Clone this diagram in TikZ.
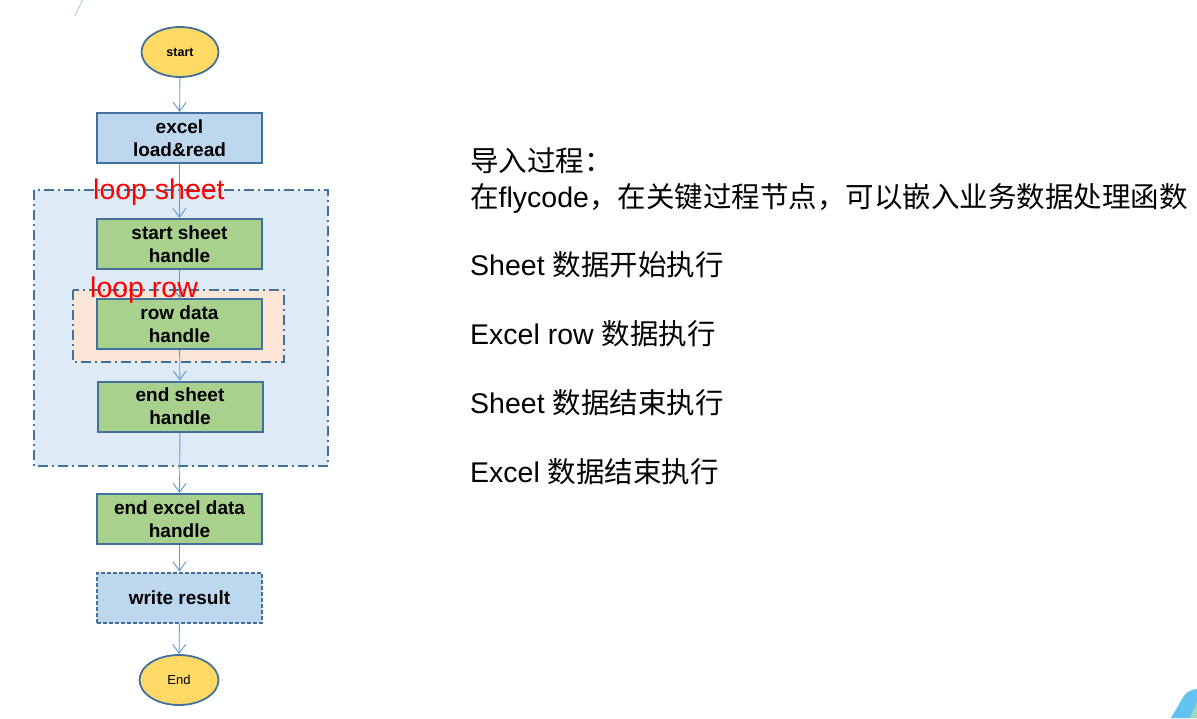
\documentclass[tikz,border=0pt]{standalone}
\usepackage{fontspec}
\setmainfont{Liberation Sans}
\newfontfamily\cjk{Noto Sans CJK SC}
\usetikzlibrary{shapes.geometric,arrows.meta}

\definecolor{edgeblue}{HTML}{41719C}
\definecolor{arrowblue}{HTML}{5B9BD5}
\definecolor{boxblue}{HTML}{BDD7EE}
\definecolor{boxgreen}{HTML}{A9D18E}
\definecolor{termyellow}{HTML}{FFD966}
\definecolor{sheetbg}{HTML}{DEEBF7}
\definecolor{rowbg}{HTML}{FBE5D6}
\definecolor{looptext}{HTML}{FF0000}
\definecolor{cornercyan}{HTML}{62C3EF}
\definecolor{cornergreen}{HTML}{9ED9B8}

\tikzset{
  procbox/.style={draw=edgeblue, line width=2pt, minimum width=165pt, minimum height=50pt,
    inner sep=0pt, align=center, font=\fontsize{19}{23}\selectfont\bfseries},
  bluebox/.style={procbox, fill=boxblue},
  greenbox/.style={procbox, fill=boxgreen},
  terminal/.style={ellipse, draw=edgeblue, line width=1.8pt, fill=termyellow,
    minimum width=77pt, minimum height=50pt, inner sep=0pt},
  loopframe/.style={draw=edgeblue, line width=1.6pt, dash pattern=on 10pt off 4pt on 2pt off 4pt},
  looplabel/.style={anchor=base west, inner sep=0pt, text=looptext, font=\fontsize{28.5}{34}\selectfont},
  flow/.style={draw=arrowblue, line width=0.9pt, -{Straight Barb[length=9pt,width=13pt,line width=0.9pt]}},
  note/.style={anchor=base west, inner sep=0pt, font=\fontsize{28.5}{34}\selectfont}
}

\begin{document}
\begin{tikzpicture}[x=1pt,y=-1pt]
  \useasboundingbox (0,0) rectangle (1197,718);

  % decorative accents at the page corners
  \draw[color=arrowblue!50, line width=1pt] (82.5,0) -- (75,15.5);
  \fill[color=cornercyan] (1171,718) -- (1182,699) .. controls (1185,693) and (1189,690) .. (1197,689) -- (1197,718) -- cycle;
  \fill[color=cornergreen] (1190,718) -- (1197,702) -- (1197,718) -- cycle;

  % loop regions
  \path[loopframe, fill=sheetbg] (34,190) rectangle (328,466);
  \path[loopframe, fill=rowbg] (73,290) rectangle (284,362);

  % flow chart nodes
  \node[terminal, font=\fontsize{12.5}{14}\selectfont\bfseries] (start) at (180,52) {start};
  \node[bluebox] (load) at (179.5,138) {excel\\load\&read};
  \node[greenbox] (sheetstart) at (179.5,244) {start sheet\\handle};
  \node[greenbox] (rowdata) at (179.5,324) {row data\\handle};
  \node[greenbox] (sheetend) at (180,406.5) {end sheet\\handle};
  \node[greenbox] (excelend) at (179.5,519) {end excel data\\handle};
  \node[bluebox, dash pattern=on 4pt off 2pt] (write) at (179.5,597.5) {write result};
  \node[terminal, minimum width=79pt, font=\fontsize{13}{15}\selectfont] (finish) at (179,680) {End};

  % connectors
  \draw[flow] (start) -- (load);
  \draw[flow] (load) -- (sheetstart);
  \draw[flow] (sheetstart) -- (rowdata);
  \draw[flow] (rowdata) -- (sheetend);
  \draw[flow] (sheetend) -- (excelend);
  \draw[flow] (excelend) -- (write);
  \draw[flow] (write) -- (finish);

  % loop captions
  \node[looplabel] (loopsheet) at (93,199) {loop sheet};
  \node[looplabel] (looprow) at (90,297) {loop row};

  % description of the import process
  \node[note] (t1) at (470,171) {\cjk 导入过程：};
  \node[note] (t2) at (470,207) {{\cjk 在}flycode{\cjk ，在关键过程节点，可以嵌入业务数据处理函数}};
  \node[note] (t3) at (470,275.5) {Sheet {\cjk 数据开始执行}};
  \node[note] (t4) at (470,344.5) {Excel row {\cjk 数据执行}};
  \node[note] (t5) at (470,413.5) {Sheet {\cjk 数据结束执行}};
  \node[note] (t6) at (470,482.5) {Excel {\cjk 数据结束执行}};
\end{tikzpicture}
\end{document}
